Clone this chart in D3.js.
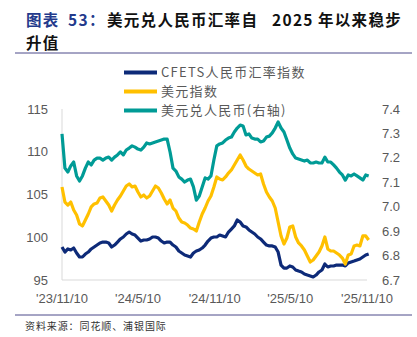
<!DOCTYPE html>
<html>
<head>
<meta charset="utf-8">
<script src="https://cdn.jsdelivr.net/npm/d3@7"></script>
<style>
  html, body { margin: 0; padding: 0; background: #fff; }
  svg { display: block; }
  text { font-family: "Noto Sans CJK SC", "Liberation Sans", sans-serif; }
</style>
</head>
<body>
<div id="chart"></div>
<script>
// weekly readings, first week = 2023-11-10
const START_DATE = '2023-11-10';

const cfets = [
  98.86, 98.27, 98.63, 98.51, 98.74, 98.16, 97.69, 97.69, 98.04, 98.27,
  98.63, 98.86, 99.09, 99.33, 99.44, 99.44, 99.33, 98.86, 99.09, 99.44,
  99.80, 100.03, 100.38, 100.61, 100.38, 100.26, 99.91, 99.56, 99.68, 99.68,
  99.80, 100.03, 100.03, 99.91, 99.56, 99.33, 99.44, 99.44, 99.09, 98.86,
  98.39, 98.16, 97.92, 97.81, 97.69, 98.16, 98.39, 98.51, 98.74, 99.09,
  99.56, 99.91, 100.03, 100.03, 100.26, 100.15, 100.03, 100.61, 100.96, 101.32,
  102.02, 101.78, 101.32, 101.20, 100.85, 100.61, 100.38, 100.03, 99.80, 99.44,
  99.09, 98.98, 98.98, 98.86, 98.27, 96.75, 96.40, 96.40, 96.64, 96.52,
  96.17, 96.05, 95.94, 95.70, 95.58, 95.47, 95.35, 95.58, 95.94, 96.17,
  96.87, 96.52, 96.64, 96.64, 96.75, 96.75, 96.75, 96.64, 96.99, 97.11,
  97.22, 97.34, 97.46, 97.69, 97.92, 98.04
];

const dxy = [
  105.88, 104.12, 103.77, 104.12, 103.19, 102.60, 101.55, 101.32, 102.02, 102.72,
  103.54, 103.89, 104.01, 104.59, 104.71, 104.24, 103.77, 103.07, 103.77, 104.36,
  104.82, 105.41, 105.99, 106.23, 105.88, 105.99, 105.29, 104.71, 104.94, 104.59,
  104.82, 105.41, 105.99, 105.76, 105.18, 104.47, 103.89, 104.36, 103.42, 103.07,
  102.25, 101.78, 101.67, 101.43, 101.08, 100.96, 100.73, 101.78, 102.72, 103.42,
  104.24, 104.82, 105.88, 107.05, 106.81, 106.70, 107.05, 107.51, 107.87, 108.45,
  109.04, 109.62, 109.04, 108.33, 107.98, 107.75, 107.51, 107.28, 107.40, 106.23,
  105.29, 104.71, 104.24, 103.42, 101.78, 100.15, 99.21, 99.91, 101.20, 101.32,
  100.03, 99.33, 98.98, 98.51, 97.81, 97.11, 97.34, 97.81, 98.27, 98.98,
  100.03, 98.63, 98.39, 98.39, 98.16, 97.92, 97.57, 96.87, 97.92, 98.04,
  98.98, 99.09, 98.98, 100.15, 100.15, 99.68
];

const usdcny = [
  7.298, 7.158, 7.142, 7.167, 7.183, 7.126, 7.105, 7.126, 7.158, 7.183,
  7.171, 7.191, 7.199, 7.199, 7.191, 7.199, 7.203, 7.191, 7.203, 7.212,
  7.224, 7.212, 7.232, 7.240, 7.249, 7.244, 7.236, 7.232, 7.244, 7.261,
  7.257, 7.261, 7.265, 7.269, 7.273, 7.277, 7.277, 7.224, 7.158, 7.146,
  7.122, 7.113, 7.101, 7.109, 7.113, 7.081, 7.027, 7.044, 7.081, 7.118,
  7.113, 7.126, 7.191, 7.249, 7.257, 7.261, 7.273, 7.281, 7.285, 7.306,
  7.322, 7.334, 7.330, 7.294, 7.298, 7.281, 7.277, 7.277, 7.265, 7.269,
  7.285, 7.289, 7.302, 7.322, 7.347, 7.322, 7.306, 7.273, 7.240, 7.216,
  7.199, 7.195, 7.191, 7.187, 7.191, 7.179, 7.179, 7.183, 7.179, 7.179,
  7.203, 7.183, 7.183, 7.171, 7.158, 7.142, 7.130, 7.109, 7.130, 7.126,
  7.134, 7.126, 7.118, 7.109, 7.130, 7.126
];

const xTickDates  = ['2023-11-10', '2024-05-10', '2024-11-10', '2025-05-10', '2025-11-10'];
const xTickLabels = ["'23/11/10", "'24/5/10", "'24/11/10", "'25/5/10", "'25/11/10"];
const leftTicks   = [95, 100, 105, 110, 115];
const rightTicks  = [6.7, 6.8, 6.9, 7.0, 7.1, 7.2, 7.3, 7.4];

const SERIES = [
  { name: 'CFETS人民币汇率指数', values: cfets,  axis: 'left',  color: '#0d2a78' },
  { name: '美元指数',            values: dxy,    axis: 'left',  color: '#ffc000' },
  { name: '美元兑人民币(右轴)',  values: usdcny, axis: 'right', color: '#009b96' },
];

// title pieces, placed one by one to keep the wide spacing of the original
const TITLE = [
  { text: '图表',               x: 26,  color: '#233a8c' },
  { text: '53：',               x: 68,  color: '#233a8c' },
  { text: '美元兑人民币汇率自', x: 107, color: '#111' },
  { text: '2025',               x: 272, color: '#111' },
  { text: '年以来稳步',         x: 318, color: '#111' },
];

const W = 417, H = 337;
const parse = d3.timeParse('%Y-%m-%d');
const start = parse(START_DATE);
const dates = cfets.map((_, i) => d3.timeDay.offset(start, 7 * i));

const x = d3.scaleTime()
  .domain([parse(xTickDates[0]), parse(xTickDates[xTickDates.length - 1])])
  .range([62, 367]);
const yL = d3.scaleLinear().domain([95, 115]).range([280, 109]);
const yR = d3.scaleLinear().domain([6.7, 7.4]).range([280, 109]);

const svg = d3.select('#chart').append('svg')
  .attr('width', W).attr('height', H);

// ── Title ──────────────────────────────────────────────
const t1 = svg.append('text')
  .attr('y', 26)
  .attr('font-size', 15.5).attr('font-weight', 'bold')
  .style('letter-spacing', '1.3px');
t1.selectAll('tspan')
  .data(TITLE).join('tspan')
  .attr('x', d => d.x)
  .attr('fill', d => d.color)
  .text(d => d.text);

svg.append('text')
  .attr('x', 26).attr('y', 49)
  .attr('font-size', 15.5).attr('font-weight', 'bold')
  .attr('fill', '#111').style('letter-spacing', '1.3px')
  .text('升值');

svg.append('line')
  .attr('x1', 15).attr('x2', 412).attr('y1', 53).attr('y2', 53)
  .attr('stroke', '#4d4a8a').attr('stroke-width', 1);

// ── Axes ───────────────────────────────────────────────
svg.append('line')
  .attr('x1', 62).attr('x2', 62).attr('y1', 109).attr('y2', 280)
  .attr('stroke', '#d9d9d9').attr('stroke-width', 1);
svg.append('line')
  .attr('x1', 62).attr('x2', 367).attr('y1', 280).attr('y2', 280)
  .attr('stroke', '#d9d9d9').attr('stroke-width', 1);

const tickFont = '"Liberation Sans", Arial, sans-serif';

svg.append('g').selectAll('text')
  .data(leftTicks).join('text')
  .attr('x', 48).attr('y', d => yL(d))
  .attr('dy', '0.35em').attr('text-anchor', 'end')
  .attr('font-size', 13).attr('fill', '#595959')
  .style('font-family', tickFont)
  .text(d => d);

svg.append('g').selectAll('text')
  .data(rightTicks).join('text')
  .attr('x', 382).attr('y', d => yR(d))
  .attr('dy', '0.35em')
  .attr('font-size', 13).attr('fill', '#595959')
  .style('font-family', tickFont)
  .text(d => d3.format('.1f')(d));

svg.append('g').selectAll('text')
  .data(xTickDates).join('text')
  .attr('x', d => x(parse(d))).attr('y', 303)
  .attr('text-anchor', 'middle')
  .attr('font-size', 13).attr('fill', '#595959')
  .style('font-family', tickFont)
  .text((d, i) => xTickLabels[i]);

// ── Lines ──────────────────────────────────────────────
SERIES.forEach(s => {
  const y = s.axis === 'left' ? yL : yR;
  const line = d3.line()
    .x((d, i) => x(dates[i]))
    .y(d => y(d));
  svg.append('path')
    .datum(s.values)
    .attr('d', line)
    .attr('fill', 'none')
    .attr('stroke', s.color)
    .attr('stroke-width', 3.2)
    .attr('stroke-linejoin', 'round');
});

// ── Legend ─────────────────────────────────────────────
const legend = svg.append('g').selectAll('g')
  .data(SERIES).join('g')
  .attr('transform', (d, i) => `translate(124,${72.5 + i * 19})`);
legend.append('line')
  .attr('x1', 0).attr('x2', 33)
  .attr('stroke', d => d.color).attr('stroke-width', 4);
legend.append('text')
  .attr('x', 37).attr('dy', '0.36em')
  .attr('font-size', 13).attr('fill', '#595959')
  .style('letter-spacing', '1.3px')
  .text(d => d.name);

// ── Footer ─────────────────────────────────────────────
svg.append('line')
  .attr('x1', 15).attr('x2', 412).attr('y1', 315).attr('y2', 315)
  .attr('stroke', '#4d4a8a').attr('stroke-width', 1);
svg.append('text')
  .attr('x', 25).attr('y', 330)
  .attr('font-size', 10).attr('fill', '#333')
  .style('letter-spacing', '0.9px')
  .text('资料来源：同花顺、浦银国际');
</script>
</body>
</html>
